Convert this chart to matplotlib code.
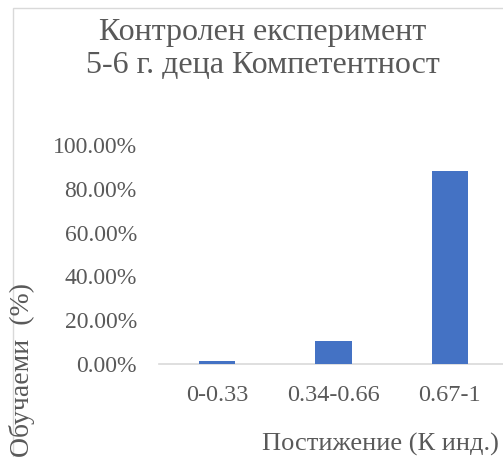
import matplotlib
matplotlib.use("Agg")
import matplotlib.pyplot as plt
from matplotlib.patches import Rectangle
from matplotlib.ticker import FuncFormatter

categories = ["0-0.33", "0.34-0.66", "0.67-1"]
values = [0.0147, 0.1029, 0.8824]
yticks = [0.0, 0.2, 0.4, 0.6, 0.8, 1.0]
title_lines = ["Контролен експеримент", "5-6 г. деца Компетентност"]

W, H = 503, 457
fig = plt.figure(figsize=(W / 100, H / 100), dpi=100)
plt.rcParams['font.family'] = ['Liberation Serif', 'DejaVu Serif']
gray = '#595959'

def fx(px):
    return px / W

def fy(py):
    return 1 - py / H

# chart-area border (cropped at right/bottom)
fig.patches.append(Rectangle((fx(13), fy(470)), fx(520) - fx(13), fy(8) - fy(470),
                             transform=fig.transFigure, fill=False,
                             edgecolor='#d9d9d9', linewidth=1.0))

ax = fig.add_axes([fx(159), fy(364), fx(508) - fx(159), fy(145) - fy(364)])
ax.bar(range(len(categories)), values, width=0.31, color='#4472C4', zorder=3)
ax.set_xlim(-0.5, len(categories) - 0.5)
ax.set_ylim(0, 1.0)
ax.set_yticks(yticks)
ax.yaxis.set_major_formatter(FuncFormatter(lambda v, p: f"{v*100:.2f}%"))
ax.set_xticks(range(len(categories)))
ax.set_xticklabels(categories)
for s in ['top', 'right', 'left']:
    ax.spines[s].set_visible(False)
ax.spines['bottom'].set_color('#d9d9d9')
ax.spines['bottom'].set_linewidth(1.2)
ax.tick_params(axis='y', length=0, pad=16, labelsize=17, labelcolor=gray)
ax.tick_params(axis='x', length=0, pad=15, labelsize=17.5, labelcolor=gray)
ax.patch.set_alpha(0)

fig.text(fx(263), fy(40), title_lines[0], ha='center', va='baseline',
         fontsize=23, color=gray)
fig.text(fx(263), fy(73), title_lines[1], ha='center', va='baseline',
         fontsize=23, color=gray)
fig.text(fx(380), fy(451), "Постижение (К инд.)", ha='center', va='baseline',
         fontsize=19, color=gray)
fig.text(fx(22), fy(283), "Обучаеми  (%)", ha='center', va='top', rotation=90,
         fontsize=20, color=gray)

fig.savefig("out.png", dpi=100)
